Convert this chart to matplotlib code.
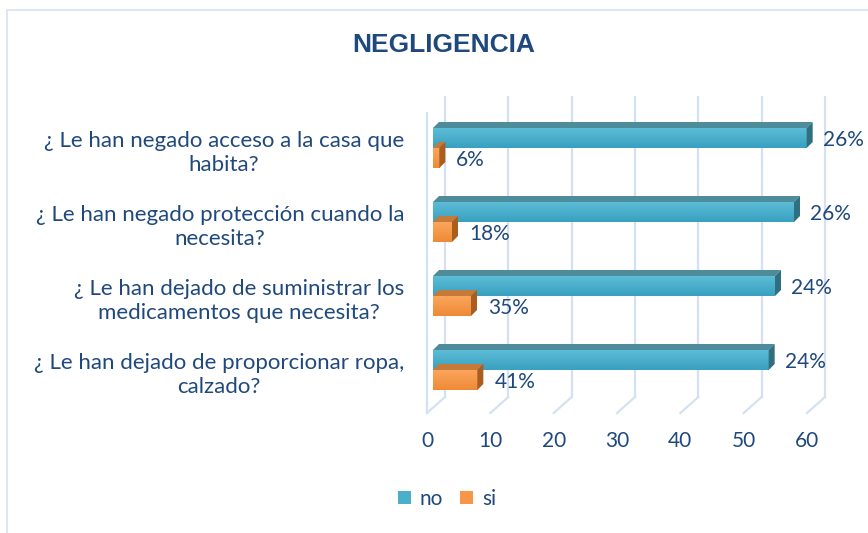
import matplotlib
matplotlib.use("Agg")
import numpy as np
import matplotlib.pyplot as plt
import matplotlib.transforms as mtransforms
from matplotlib.colors import LinearSegmentedColormap
from matplotlib.patches import Polygon, Rectangle, Patch

# datos
preguntas = [
    "¿ Le han negado acceso a la casa que\nhabita?",
    "¿ Le han negado protección cuando la\nnecesita?",
    "¿ Le han dejado de suministrar los\nmedicamentos que necesita?",
    "¿ Le han dejado de proporcionar ropa,\ncalzado?",
]
no_vals = [59, 57, 54, 53]
si_vals = [1, 3, 6, 7]
no_pct = ["26%", "26%", "24%", "24%"]
si_pct = ["6%", "18%", "35%", "41%"]
ticks = [0, 10, 20, 30, 40, 50, 60]

TXT = "#1F497D"
GRID = "#D5E1F3"
# (frente claro, frente oscuro, arriba, lado)
NO_C = ("#5DBCD6", "#38A0C0", "#4E8C9B", "#2F6F80")
SI_C = ("#FBA55C", "#EE8A36", "#C67A3A", "#A95D1E")

plt.rcParams["font.family"] = ["Lato", "DejaVu Sans"]

W, H = 868, 533
fig = plt.figure(figsize=(W / 100, H / 100), dpi=100)

# ejes: x=0 en 433px, 60 en 813px ; y=0 (categoria 1) en 148px, 74px por categoria
ax_l, ax_r, ax_t, ax_b = 433, 813, 100, 420
ax = fig.add_axes([ax_l / W, 1 - ax_b / H, (ax_r - ax_l) / W, (ax_b - ax_t) / H])
xlim = (0, 60)
ylim = ((ax_b - 148) / 74, (ax_t - 148) / 74)
ax.axis("off")

pxx = (ax_r - ax_l) / 60.0   # px por unidad x
pxy = 74.0                   # px por unidad y


def dx(p):
    return p / pxx


def dy(p):
    return p / pxy


# paredes / lineas de cuadricula 3D
floor_front = dy(413 - 148)
floor_back = dy(397 - 148)
wall_top = dy(97 - 148)
for k in ticks:
    ax.plot([k - dx(6), k + dx(12)], [floor_front, floor_back], color=GRID, lw=1.6, zorder=1, clip_on=False)
    ax.plot([k + dx(12), k + dx(12)], [floor_back, wall_top], color=GRID, lw=1.6, zorder=1, clip_on=False)
ax.plot([-dx(6), -dx(6)], [floor_front, dy(113 - 148)], color=GRID, lw=1.6, zorder=1, clip_on=False)

# barras 3D
h = dy(20)
ddx, ddy = dx(6), dy(6)
grad = np.linspace(0, 1, 64).reshape(-1, 1)


def bar3d(y_top, v, cols):
    light, dark, top, side = cols
    y_bot = y_top + h
    bars = ax.barh(y_top + h / 2, v, height=h, color=dark, edgecolor="none", zorder=3)
    cmap = LinearSegmentedColormap.from_list("g", [light, dark])
    im = ax.imshow(grad, cmap=cmap, extent=(0, v, y_bot, y_top), aspect="auto", zorder=3.1,
                   interpolation="bilinear")
    im.set_clip_path(bars[0])
    ax.add_patch(Polygon([(0, y_top), (v, y_top), (v + ddx, y_top - ddy), (ddx, y_top - ddy)],
                         closed=True, facecolor=top, edgecolor="none", zorder=3.2))
    ax.add_patch(Polygon([(v, y_top), (v, y_bot), (v + ddx, y_bot - ddy), (v + ddx, y_top - ddy)],
                         closed=True, facecolor=side, edgecolor="none", zorder=3.2))


off_lbl = mtransforms.offset_copy(ax.transData, fig=fig, x=16, y=-2, units="dots")
off_lbl2 = mtransforms.offset_copy(ax.transData, fig=fig, x=17, y=-2, units="dots")
for i in range(len(preguntas)):
    bar3d(i - h, no_vals[i], NO_C)
    bar3d(i, si_vals[i], SI_C)
    ax.text(no_vals[i], i - h / 2, no_pct[i], transform=off_lbl, ha="left", va="center",
            fontsize=15, color=TXT, clip_on=False)
    ax.text(si_vals[i], i + h / 2, si_pct[i], transform=off_lbl2, ha="left", va="center",
            fontsize=15, color=TXT, clip_on=False)

ax.set_xlim(*xlim)
ax.set_ylim(*ylim)

# etiquetas de categorias
bt = mtransforms.blended_transform_factory(fig.transFigure, ax.transData)
for i, q in enumerate(preguntas):
    ax.text(404 / W, i + dy(5), q, transform=bt, ha="right", va="center", multialignment="center",
            fontsize=16, color=TXT, linespacing=1.25, clip_on=False)

# etiquetas del eje x
bx = mtransforms.blended_transform_factory(ax.transData, fig.transFigure)
tick_tr = mtransforms.offset_copy(bx, fig=fig, x=-6, y=0, units="dots")
for k in ticks:
    ax.text(k, 1 - 441 / H, str(k), transform=tick_tr, ha="center", va="center",
            fontsize=15, color=TXT, clip_on=False)

# titulo
fig.text(444 / W, 1 - 45 / H, "NEGLIGENCIA", ha="center", va="center", fontsize=19,
         fontweight="bold", color=TXT, family=["Liberation Sans", "DejaVu Sans"])

# leyenda
handles = [Patch(facecolor="#4BAFCB", edgecolor="none", label="no"),
           Patch(facecolor="#F79646", edgecolor="none", label="si")]
leg = fig.legend(handles=handles, loc="center", bbox_to_anchor=(447 / W, 1 - 499 / H), ncol=2,
                 frameon=False, fontsize=15, handlelength=0.6, handleheight=0.6,
                 handletextpad=0.45, columnspacing=0.8)
for t in leg.get_texts():
    t.set_color(TXT)

# borde del grafico
fig.patches.append(Rectangle((7 / W, -0.05), 1.1, 1 - 10 / H + 0.05, transform=fig.transFigure,
                             fill=False, edgecolor=GRID, lw=1.2))

fig.savefig("out.png", dpi=100)
